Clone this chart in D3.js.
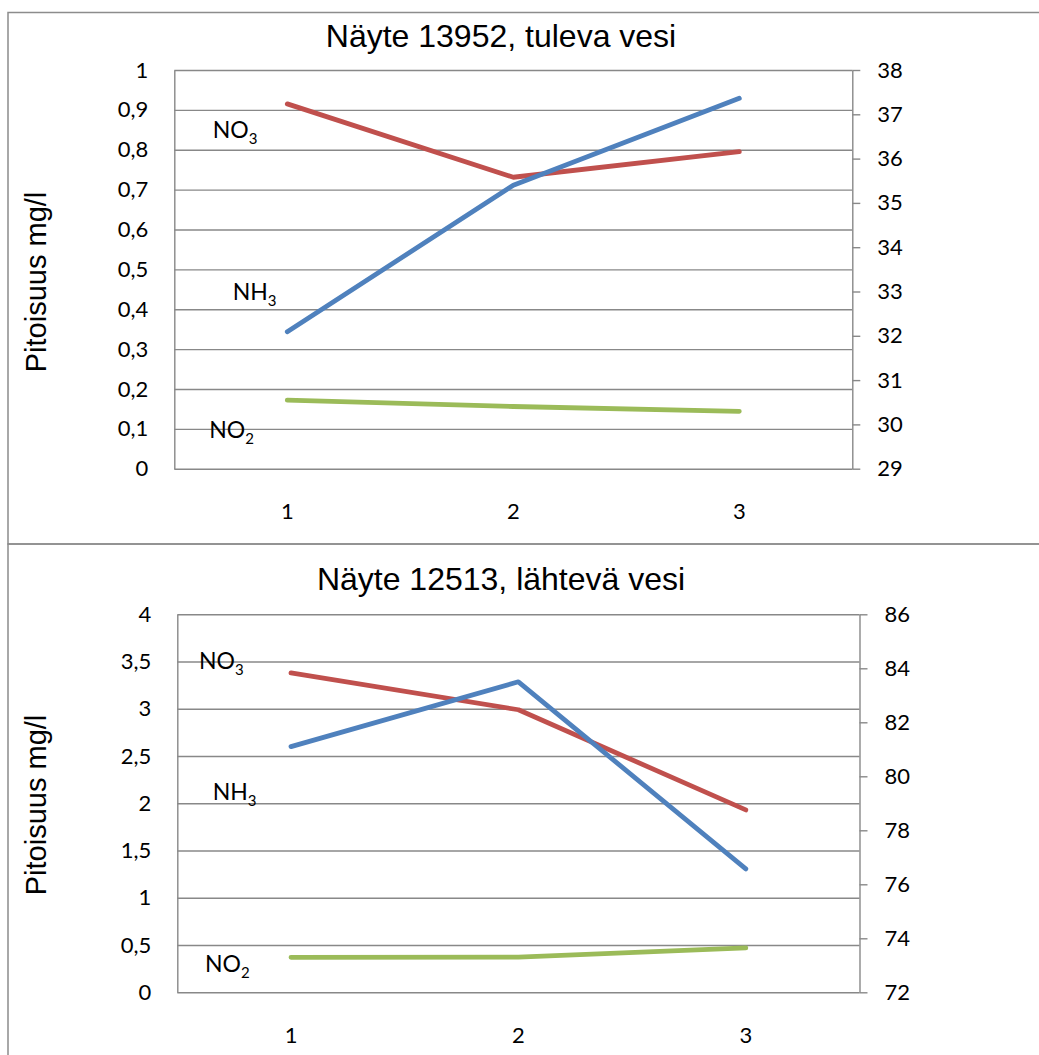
<!DOCTYPE html>
<html>
<head>
<meta charset="utf-8">
<script src="https://cdn.jsdelivr.net/npm/d3@7"></script>
<style>
  body { margin: 0; background: #fff; }
  .tick text { fill: #000; }
</style>
</head>
<body>
<script>
// data
const categories = ["1", "2", "3"]
const seriesNames = ["NO3", "NH3", "NO2"]

const topTitle = "Näyte 13952, tuleva vesi"
const topNO3 = [0.915, 0.731, 0.795]      // left axis
const topNH3 = [32.09, 35.40, 37.36]      // right axis
const topNO2 = [0.172, 0.156, 0.144]      // left axis
const topLeftTicks = [0, 0.1, 0.2, 0.3, 0.4, 0.5, 0.6, 0.7, 0.8, 0.9, 1]
const topRightTicks = [29, 30, 31, 32, 33, 34, 35, 36, 37, 38]

const bottomTitle = "Näyte 12513, lähtevä vesi"
const bottomNO3 = [3.38, 2.99, 1.93]      // left axis
const bottomNH3 = [81.10, 83.50, 76.57]   // right axis
const bottomNO2 = [0.370, 0.373, 0.471]   // left axis
const bottomLeftTicks = [0, 0.5, 1, 1.5, 2, 2.5, 3, 3.5, 4]
const bottomRightTicks = [72, 74, 76, 78, 80, 82, 84, 86]

const yAxisTitle = "Pitoisuus mg/l"

const colors = { NO3: "#c0504d", NH3: "#4f81bd", NO2: "#9bbb59" }
const gridColor = "#888888"
const commaLocale = d3.formatLocale({ decimal: ",", thousands: " ", grouping: [3], currency: ["", ""] })
const leftFormat = commaLocale.format(".1~f")

const svg = d3.select("body").append("svg")
    .attr("width", 1039)
    .attr("height", 1055)

function drawChart(c) {
    svg.append("rect")
        .attr("x", c.frame.x)
        .attr("y", c.frame.y)
        .attr("width", c.frame.w)
        .attr("height", c.frame.h)
        .attr("fill", "none")
        .attr("stroke", "#8c8c8c")
        .attr("stroke-width", 1.5)

    const xScale = d3.scaleBand()
        .domain(categories)
        .range([c.left, c.right])
    const yLeft = d3.scaleLinear()
        .domain(d3.extent(c.leftTicks))
        .range([c.bottom, c.top])
    const yRight = d3.scaleLinear()
        .domain(d3.extent(c.rightTicks))
        .range([c.bottom, c.top])
    const xPos = (d, i) => xScale(categories[i]) + xScale.bandwidth() / 2

    // left axis + gridlines
    const leftAxis = svg.append("g")
        .attr("transform", `translate(${c.left},0)`)
        .call(d3.axisLeft(yLeft)
            .tickValues(c.leftTicks)
            .tickSize(-(c.right - c.left))
            .tickSizeOuter(0)
            .tickPadding(26)
            .tickFormat(leftFormat))
    leftAxis.selectAll("line, path").attr("stroke", gridColor).attr("stroke-width", 1.4)
    leftAxis.selectAll("text").attr("font-family", "Lato").attr("font-size", 22)

    // right axis
    const rightAxis = svg.append("g")
        .attr("transform", `translate(${c.right},0)`)
        .call(d3.axisRight(yRight)
            .tickValues(c.rightTicks)
            .tickSize(8)
            .tickSizeOuter(0)
            .tickPadding(17)
            .tickFormat(d3.format("d")))
    rightAxis.selectAll("line, path").attr("stroke", gridColor).attr("stroke-width", 1.4)
    rightAxis.selectAll("text").attr("font-family", "Lato").attr("font-size", 22)

    // category axis
    const xAxis = svg.append("g")
        .attr("transform", `translate(0,${c.bottom})`)
        .call(d3.axisBottom(xScale).tickSize(0).tickPadding(35))
    xAxis.select(".domain").remove()
    xAxis.selectAll("text").attr("font-family", "Lato").attr("font-size", 22)

    // series
    const lineLeft = d3.line().x(xPos).y(d => yLeft(d))
    const lineRight = d3.line().x(xPos).y(d => yRight(d))
    const series = [
        { name: "NO3", values: c.no3, gen: lineLeft },
        { name: "NO2", values: c.no2, gen: lineLeft },
        { name: "NH3", values: c.nh3, gen: lineRight },
    ]
    svg.append("g").selectAll("path")
        .data(series)
        .join("path")
        .attr("d", d => d.gen(d.values))
        .attr("fill", "none")
        .attr("stroke", d => colors[d.name])
        .attr("stroke-width", 4.8)
        .attr("stroke-linecap", "round")
        .attr("stroke-linejoin", "round")

    // hand placed series labels
    seriesNames.forEach(name => {
        const pos = c.labels[name]
        const t = svg.append("text")
            .attr("x", c.left + pos.dx)
            .attr("y", yLeft(pos.v))
            .attr("font-family", "Lato")
            .attr("font-size", 23)
            .attr("fill", "#000")
        t.append("tspan").text(name.slice(0, 2))
        t.append("tspan").attr("font-size", 15).attr("dy", 6).text(name.slice(2))
    })

    // titles
    svg.append("text")
        .attr("x", 501)
        .attr("y", c.titleY)
        .attr("text-anchor", "middle")
        .attr("font-family", "Liberation Sans")
        .attr("font-size", 32)
        .text(c.title)

    svg.append("text")
        .attr("transform", "rotate(-90)")
        .attr("x", -c.axisTitleY)
        .attr("y", 46)
        .attr("text-anchor", "middle")
        .attr("font-family", "Liberation Sans")
        .attr("font-size", 29)
        .text(yAxisTitle)
}

drawChart({
    frame: { x: 8, y: 12.5, w: 1045, h: 531.5 },
    left: 174.3, right: 852.3, top: 70, bottom: 468.7,
    titleY: 47, axisTitleY: 282,
    title: topTitle,
    leftTicks: topLeftTicks, rightTicks: topRightTicks,
    no3: topNO3, nh3: topNH3, no2: topNO2,
    labels: { NO3: { dx: 38.4, v: 0.829 }, NH3: { dx: 58.4, v: 0.423 }, NO2: { dx: 35, v: 0.077 } },
})

drawChart({
    frame: { x: 8, y: 544, w: 1045, h: 530 },
    left: 177.3, right: 859.5, top: 614.3, bottom: 992.3,
    titleY: 590, axisTitleY: 805,
    title: bottomTitle,
    leftTicks: bottomLeftTicks, rightTicks: bottomRightTicks,
    no3: bottomNO3, nh3: bottomNH3, no2: bottomNO2,
    labels: { NO3: { dx: 21.7, v: 3.425 }, NH3: { dx: 35.4, v: 2.033 }, NO2: { dx: 27.7, v: 0.218 } },
})
</script>
</body>
</html>
